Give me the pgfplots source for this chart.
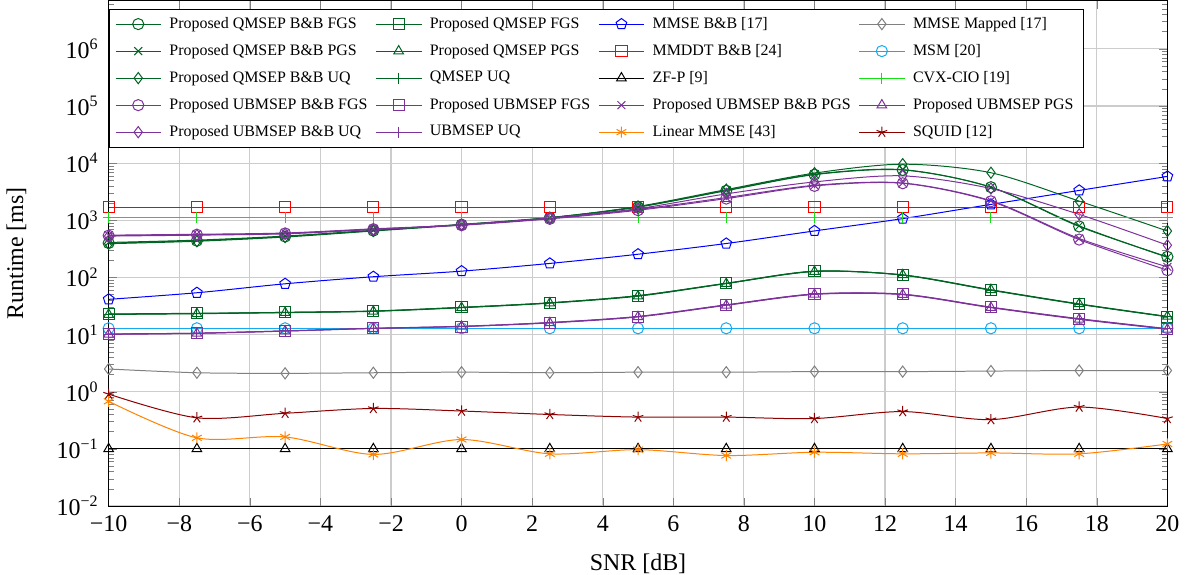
\documentclass[border=0pt]{standalone}
\usepackage{fontspec}
\setmainfont{Liberation Serif}
\usepackage{pgfplots}
\pgfplotsset{compat=1.18}
\definecolor{dgreen}{RGB}{0,100,35}
\definecolor{dpurple}{RGB}{125,50,155}
\definecolor{mscyan}{RGB}{20,170,240}
\definecolor{cvxgreen}{RGB}{20,225,20}
\definecolor{lmorange}{RGB}{255,130,0}
\definecolor{sqred}{RGB}{140,0,0}
\definecolor{mgray}{RGB}{128,128,128}
\begin{document}
\begin{tikzpicture}
\begin{axis}[
  scale only axis, width=531pt, height=253.5pt,
  ymode=log, xmin=-10, xmax=20, ymin=1e-2, ymax=7e6,
  xtick={-10,-8,-6,-4,-2,0,2,4,6,8,10,12,14,16,18,20},
  xticklabels={−10,−8,−6,−4,−2,0,2,4,6,8,10,12,14,16,18,20},
  ytick={1e-2,1e-1,1,1e1,1e2,1e3,1e4,1e5,1e6},
  yticklabels={10\textsuperscript{−2},10\textsuperscript{−1},10\textsuperscript{0},10\textsuperscript{1},10\textsuperscript{2},10\textsuperscript{3},10\textsuperscript{4},10\textsuperscript{5},10\textsuperscript{6}},
  minor ytick={0.02,0.03,0.04,0.05,0.06,0.07,0.08,0.09,0.2,0.3,0.4,0.5,0.6,0.7,0.8,0.9,2,3,4,5,6,7,8,9,20,30,40,50,60,70,80,90,200,300,400,500,600,700,800,900,2000,3000,4000,5000,6000,7000,8000,9000,20000,30000,40000,50000,60000,70000,80000,90000,200000,300000,400000,500000,600000,700000,800000,900000,2000000,3000000,4000000,5000000,6000000},
  grid=major,
  major grid style={gray!40, line width=0.6pt},
  tick label style={font=\large},
  yticklabel style={xshift=-1.5pt},
  xticklabel style={yshift=-1.5pt},
  label style={font=\large},
  xlabel={SNR [dB]}, ylabel={Runtime [ms]},
  xlabel style={yshift=-7.5pt, inner ysep=0pt},
  ylabel style={at={(axis description cs:-0.087,0.5)}, anchor=center},
  legend columns=4, legend cell align=left,
  legend style={font=\footnotesize, at={(0,0.984)}, anchor=north west, draw=black, row sep=2.5pt, column sep=2pt},
  legend image code/.code={\draw[mark repeat=2,mark phase=2] plot coordinates {(0cm,0cm) (0.4cm,0cm) (0.8cm,0cm)};},
  every axis plot/.append style={smooth, mark size=2.8pt, line width=0.5pt},
]
% Row 1
\addplot[dgreen, mark=o] coordinates {(-10,400)(-7.5,440)(-5,520)(-2.5,660)(0,840)(2.5,1110)(5,1700)(7.5,3300)(10,6300)(12.5,7600)(15,3800)(17.5,780)(20,230)};
\addlegendentry{Proposed QMSEP B\&B FGS}
\addplot[dgreen, mark=square] coordinates {(-10,23)(-7.5,23.6)(-5,24.5)(-2.5,25.9)(0,30)(2.5,36)(5,48)(7.5,79)(10,129)(12.5,110)(15,60)(17.5,34)(20,20.6)};
\addlegendentry{Proposed QMSEP FGS}
\addplot[blue, mark=pentagon] coordinates {(-10,41.4)(-7.5,54)(-5,77.5)(-2.5,103)(0,129)(2.5,176)(5,255)(7.5,393)(10,652)(12.5,1070)(15,1900)(17.5,3335)(20,5860)};
\addlegendentry{MMSE B\&B [17]}
\addplot[mgray, mark=diamond] coordinates {(-10,2.5)(-7.5,2.15)(-5,2.1)(-2.5,2.15)(0,2.2)(2.5,2.15)(5,2.2)(7.5,2.2)(10,2.25)(12.5,2.25)(15,2.3)(17.5,2.35)(20,2.35)};
\addlegendentry{MMSE Mapped [17]}
% Row 2
\addplot[dgreen, mark=x] coordinates {(-10,410)(-7.5,450)(-5,530)(-2.5,670)(0,850)(2.5,1120)(5,1720)(7.5,3350)(10,6400)(12.5,7700)(15,3800)(17.5,800)(20,225)};
\addlegendentry{Proposed QMSEP B\&B PGS}
\addplot[dgreen, mark=triangle] coordinates {(-10,22.5)(-7.5,23.2)(-5,24.2)(-2.5,25.5)(0,29.5)(2.5,35.5)(5,47)(7.5,78)(10,127)(12.5,111)(15,61)(17.5,34.5)(20,20.8)};
\addlegendentry{Proposed QMSEP PGS}
\addplot[red, mark=square] coordinates {(-10,1700)(-7.5,1700)(-5,1700)(-2.5,1700)(0,1700)(2.5,1700)(5,1700)(7.5,1700)(10,1700)(12.5,1700)(15,1700)(17.5,1700)(20,1700)};
\addlegendentry{MMDDT B\&B [24]}
\addplot[mscyan, mark=o] coordinates {(-10,12.9)(-7.5,12.9)(-5,12.9)(-2.5,12.9)(0,12.9)(2.5,12.9)(5,12.9)(7.5,12.9)(10,12.9)(12.5,12.9)(15,12.9)(17.5,12.9)(20,12.9)};
\addlegendentry{MSM [20]}
% Row 3
\addplot[dgreen, mark=diamond] coordinates {(-10,390)(-7.5,430)(-5,510)(-2.5,650)(0,830)(2.5,1100)(5,1750)(7.5,3450)(10,6700)(12.5,9600)(15,6800)(17.5,2170)(20,650)};
\addlegendentry{Proposed QMSEP B\&B UQ}
\addplot[dgreen, mark=+] coordinates {(-10,22.8)(-7.5,23.4)(-5,24.5)(-2.5,25.8)(0,30)(2.5,36)(5,48)(7.5,79)(10,128)(12.5,110)(15,60)(17.5,34)(20,20.5)};
\addlegendentry{QMSEP UQ}
\addplot[black, mark=triangle] coordinates {(-10,0.1)(-7.5,0.1)(-5,0.1)(-2.5,0.1)(0,0.1)(2.5,0.1)(5,0.1)(7.5,0.1)(10,0.1)(12.5,0.1)(15,0.1)(17.5,0.1)(20,0.1)};
\addlegendentry{ZF-P [9]}
\addplot[cvxgreen, mark=+] coordinates {(-10,1130)(-7.5,1130)(-5,1130)(-2.5,1130)(0,1130)(2.5,1130)(5,1130)(7.5,1130)(10,1130)(12.5,1130)(15,1130)(17.5,1130)(20,1130)};
\addlegendentry{CVX-CIO [19]}
% Row 4
\addplot[dpurple, mark=o] coordinates {(-10,540)(-7.5,560)(-5,590)(-2.5,700)(0,820)(2.5,1060)(5,1500)(7.5,2400)(10,4000)(12.5,4450)(15,2150)(17.5,460)(20,134)};
\addlegendentry{Proposed UBMSEP B\&B FGS}
\addplot[dpurple, mark=square] coordinates {(-10,10.3)(-7.5,10.6)(-5,11.6)(-2.5,12.9)(0,13.8)(2.5,16.2)(5,20.6)(7.5,32.9)(10,51.2)(12.5,50.6)(15,30)(17.5,18.8)(20,12.6)};
\addlegendentry{Proposed UBMSEP FGS}
\addplot[dpurple, mark=x] coordinates {(-10,550)(-7.5,570)(-5,600)(-2.5,710)(0,830)(2.5,1080)(5,1550)(7.5,2500)(10,4100)(12.5,4500)(15,2200)(17.5,480)(20,153)};
\addlegendentry{Proposed UBMSEP B\&B PGS}
\addplot[dpurple, mark=triangle] coordinates {(-10,10.1)(-7.5,10.5)(-5,11.5)(-2.5,12.8)(0,13.9)(2.5,16.0)(5,20.4)(7.5,32.5)(10,50.5)(12.5,50)(15,29.6)(17.5,18.5)(20,12.4)};
\addlegendentry{Proposed UBMSEP PGS}
% Row 5
\addplot[dpurple, mark=diamond] coordinates {(-10,530)(-7.5,550)(-5,580)(-2.5,690)(0,840)(2.5,1100)(5,1600)(7.5,2900)(10,4700)(12.5,6000)(15,3600)(17.5,1270)(20,367)};
\addlegendentry{Proposed UBMSEP B\&B UQ}
\addplot[dpurple, mark=+] coordinates {(-10,10.2)(-7.5,10.6)(-5,11.6)(-2.5,12.9)(0,14)(2.5,16.3)(5,20.8)(7.5,33.2)(10,51.5)(12.5,51)(15,30.2)(17.5,19)(20,12.7)};
\addlegendentry{UBMSEP UQ}
\addplot[lmorange, mark=asterisk] coordinates {(-10,0.68)(-7.5,0.156)(-5,0.162)(-2.5,0.080)(0,0.146)(2.5,0.082)(5,0.097)(7.5,0.0765)(10,0.0874)(12.5,0.082)(15,0.085)(17.5,0.082)(20,0.122)};
\addlegendentry{Linear MMSE [43]}
\addplot[sqred, mark=star] coordinates {(-10,0.91)(-7.5,0.35)(-5,0.42)(-2.5,0.51)(0,0.46)(2.5,0.40)(5,0.36)(7.5,0.36)(10,0.34)(12.5,0.45)(15,0.325)(17.5,0.54)(20,0.34)};
\addlegendentry{SQUID [12]}
\end{axis}
\end{tikzpicture}
\end{document}
